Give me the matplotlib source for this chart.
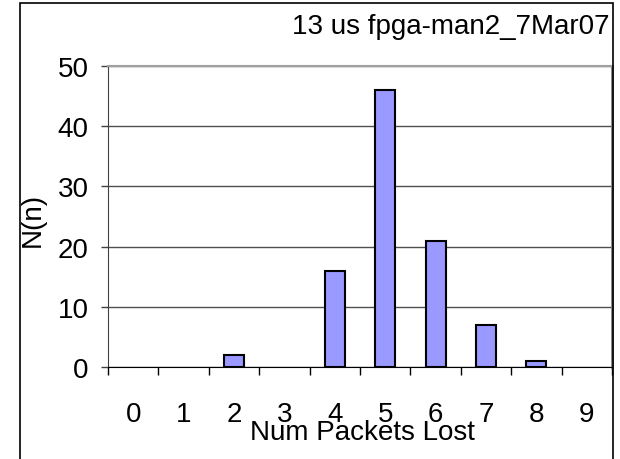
import numpy as np
import matplotlib
matplotlib.use('Agg')
import matplotlib.pyplot as plt
from matplotlib.patches import Rectangle

plt.rcParams['font.family'] = ['Liberation Sans', 'DejaVu Sans']

# Histogram of packets lost per run
packets_lost = [0, 1, 2, 3, 4, 5, 6, 7, 8, 9]
counts = [0, 0, 2, 0, 16, 46, 21, 7, 1, 0]
y_ticks = [0, 10, 20, 30, 40, 50]
title = '13 us fpga-man2_7Mar07'

W, H = 620, 460
fig = plt.figure(figsize=(W / 100, H / 100), dpi=100)

# outer chart frame (Excel-like), open at the bottom
fig.patches.append(Rectangle((20 / W, -0.05), (613 - 20) / W, 1.05 - 4 / H,
                             transform=fig.transFigure, fill=False,
                             edgecolor='black', linewidth=1.2))

ax = fig.add_axes([108 / W, 1 - 368 / H, (612 - 108) / W, (368 - 67) / H])

x = np.arange(len(packets_lost))
bars = ax.bar(x, counts, width=0.4, color='#9999ff', edgecolor='black',
              linewidth=1.5, zorder=3)
# empty classes leave no mark, like in Excel
for b, c in zip(bars, counts):
    if c == 0:
        b.set_visible(False)

ax.set_xlim(-0.5, len(packets_lost) - 0.5)
ax.set_ylim(0, 50)
ax.set_yticks(y_ticks)
ax.grid(axis='y', color='#505050', linewidth=1, zorder=0)

# category labels in the middle, tick marks on the boundaries
ax.set_xticks(x)
ax.set_xticklabels([str(v) for v in packets_lost])
ax.set_xticks(np.arange(-0.5, len(packets_lost)), minor=True)
ax.tick_params(axis='x', which='major', length=0, pad=24.5, labelsize=20)
ax.tick_params(axis='x', which='minor', length=6, width=1, color='black',
               direction='out')
ax.tick_params(axis='y', length=5, width=1, color='#404040', pad=9,
               labelsize=20)

ax.spines['left'].set_color('#404040')
ax.spines['top'].set_color('#a0a0a0')
ax.spines['top'].set_linewidth(1.5)
ax.spines['right'].set_color('#808080')
ax.spines['right'].set_linewidth(2)
ax.spines['bottom'].set_color('black')
ax.spines['bottom'].set_zorder(4)

fig.text(610 / W, 1 - 27.5 / H, title, ha='right', va='center', fontsize=20)
fig.text(362 / W, 1 - 433 / H, 'Num Packets Lost', ha='center', va='center',
         fontsize=20)
fig.text(33 / W, 1 - 220 / H, 'N(n)', ha='center', va='center',
         rotation=90, fontsize=20)

fig.savefig('out.png', dpi=100)
